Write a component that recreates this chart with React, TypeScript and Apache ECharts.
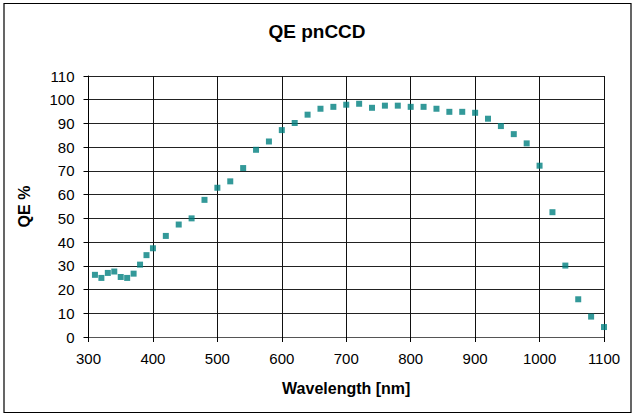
import React, { useEffect, useRef } from "react";
import * as echarts from "echarts";

const wavelengths = [
  310, 320, 330, 340, 350, 360, 370, 380, 390, 400,
  420, 440, 460, 480, 500, 520, 540, 560, 580, 600,
  620, 640, 660, 680, 700, 720, 740, 760, 780, 800,
  820, 840, 860, 880, 900, 920, 940, 960, 980, 1000,
  1020, 1040, 1060, 1080, 1100,
];
const qe = [
  26.2, 24.9, 27.0, 27.6, 25.3, 24.9, 26.7, 30.5, 34.5, 37.4,
  42.6, 47.4, 50.0, 57.8, 62.9, 65.6, 71.2, 78.9, 82.4, 87.2,
  90.2, 93.7, 96.2, 97.0, 97.9, 98.3, 96.6, 97.5, 97.5, 97.0,
  97.0, 96.2, 94.9, 94.9, 94.5, 92.0, 88.9, 85.5, 81.6, 72.2,
  52.6, 30.1, 15.9, 8.6, 4.2,
];

const FONT = "Liberation Sans, Arial, sans-serif";

export default function App() {
  const ref = useRef<HTMLDivElement>(null);
  useEffect(() => {
    if (!ref.current) return;
    const chart = echarts.init(ref.current, null, { renderer: "svg" });
    chart.setOption({
      animation: false,
      backgroundColor: "#ffffff",
      title: {
        text: "QE pnCCD",
        left: "center",
        top: 17,
        textStyle: { fontFamily: FONT, fontSize: 19, fontWeight: "bold", color: "#000" },
      },
      graphic: [
        {
          type: "rect",
          shape: { x: 4, y: 3.5, width: 627, height: 409 },
          style: { fill: "none", stroke: "#000", lineWidth: 1.2 },
          silent: true,
        },
      ],
      grid: { left: 88.5, top: 76, right: 30, bottom: 78, containLabel: false },
      xAxis: {
        type: "value",
        min: 300,
        max: 1100,
        interval: 100,
        name: "Wavelength [nm]",
        nameLocation: "middle",
        nameGap: 43,
        nameTextStyle: { fontFamily: FONT, fontSize: 16, fontWeight: "bold", color: "#000" },
        axisLine: { show: true, onZero: false, lineStyle: { color: "#555", width: 1 } },
        axisTick: { show: true, length: 5, lineStyle: { color: "#000" } },
        axisLabel: {
          fontFamily: FONT,
          fontSize: 15,
          color: "#000",
          margin: 14,
          formatter: (v: number) => String(v),
        },
        splitLine: { show: true, lineStyle: { color: "#111", width: 1 } },
      },
      yAxis: {
        type: "value",
        min: 0,
        max: 110,
        interval: 10,
        name: "QE %",
        nameLocation: "middle",
        nameGap: 56,
        nameRotate: 90,
        nameTextStyle: { fontFamily: FONT, fontSize: 16, fontWeight: "bold", color: "#000" },
        axisLine: { show: true, lineStyle: { color: "#000", width: 1 } },
        axisTick: { show: true, length: 5, lineStyle: { color: "#000" } },
        axisLabel: {
          fontFamily: FONT,
          fontSize: 15,
          color: "#000",
          margin: 14,
          formatter: (v: number) => String(v),
        },
        splitLine: { show: true, lineStyle: { color: "#222", width: 1 } },
      },
      series: [
        {
          type: "scatter",
          data: wavelengths.map((w, i) => [w, qe[i]]),
          symbol: "rect",
          symbolSize: 6,
          itemStyle: { color: "#008080" },
        },
      ],
    });
    return () => chart.dispose();
  }, []);
  return (
    <div
      ref={ref}
      style={{ position: "fixed", left: 0, top: 0, width: 634, height: 415 }}
    />
  );
}
